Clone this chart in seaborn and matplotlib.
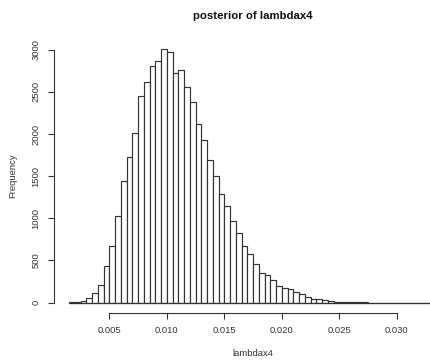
import numpy as np
import pandas as pd
import matplotlib
matplotlib.use("Agg")
import matplotlib.pyplot as plt
import seaborn as sns

# Histogram of posterior draws: bin edges start, width and counts per bin
bin_start = 0.0015
bin_width = 0.0005
counts = [
    2, 10, 25, 50, 110, 215, 440, 667, 1022, 1445,
    1729, 2013, 2455, 2617, 2807, 2870, 3002, 2968, 2724, 2763,
    2558, 2380, 2116, 1926, 1689, 1500, 1291, 1149, 971, 821,
    667, 572, 462, 347, 328, 272, 197, 170, 158, 122,
    99, 63, 47, 40, 32, 20, 12, 8, 5, 3,
    2, 2, 1, 1, 1, 0, 1, 1, 0, 0,
    0, 0, 0, 0,
]
x_ticks = [0.005, 0.010, 0.015, 0.020, 0.025, 0.030]
x_tick_labels = ["0.005", "0.010", "0.015", "0.020", "0.025", "0.030"]
y_ticks = [0, 500, 1000, 1500, 2000, 2500, 3000]

n_bins = len(counts)
edges = bin_start + bin_width * np.arange(n_bins + 1)
centers = (edges[:-1] + edges[1:]) / 2
df = pd.DataFrame({"lambdax4": centers, "count": counts})

sns.set_style("ticks")
plt.rcParams["font.family"] = ["Liberation Sans", "DejaVu Sans"]

fig = plt.figure(figsize=(4.30, 3.64), dpi=100)
ax = fig.add_axes([0.1263, 0.1407, 0.9244, 0.7513])

bar_edge = "#333333"
sns.histplot(data=df, x="lambdax4", weights="count", bins=edges.tolist(),
             stat="count", fill=True, color="white", alpha=1,
             edgecolor=bar_edge, linewidth=0.85, ax=ax)
# empty bins still show their bottom edge along the baseline
ax.hlines(0, edges[0], edges[-1], color=bar_edge, linewidth=0.85, zorder=3)

# R-style plot region: 4% padding around the data range
span = edges[-1] - edges[0]
ax.set_xlim(edges[0] - 0.04 * span, edges[-1] + 0.04 * span)
ymax = max(counts)
ax.set_ylim(-0.04 * ymax, 1.04 * ymax)

for side in ("top", "right"):
    ax.spines[side].set_visible(False)
ax.spines["bottom"].set_bounds(x_ticks[0], x_ticks[-1])
ax.spines["left"].set_bounds(y_ticks[0], y_ticks[-1])
for side in ("bottom", "left"):
    ax.spines[side].set_color("#333333")
    ax.spines[side].set_linewidth(0.8)

ax.set_xticks(x_ticks)
ax.set_xticklabels(x_tick_labels)
ax.set_yticks(y_ticks)
ax.set_yticklabels([str(v) for v in y_ticks], rotation=90, va="center")
ax.tick_params(axis="both", direction="out", length=4, width=0.8,
               color="#333333", labelsize=6.8, labelcolor="#333333", pad=5.8)

ax.set_xlabel("lambdax4", fontsize=6.8, color="#333333")
ax.xaxis.set_label_coords(0.5, -0.132)
ax.set_ylabel("Frequency", fontsize=6.8, color="#333333")
ax.yaxis.set_label_coords(-0.094, 0.5)
ax.set_title("posterior of lambdax4", fontsize=8.2, fontweight="bold",
             color="#111111", y=1.074, pad=0)

fig.savefig("out.png", dpi=100)
